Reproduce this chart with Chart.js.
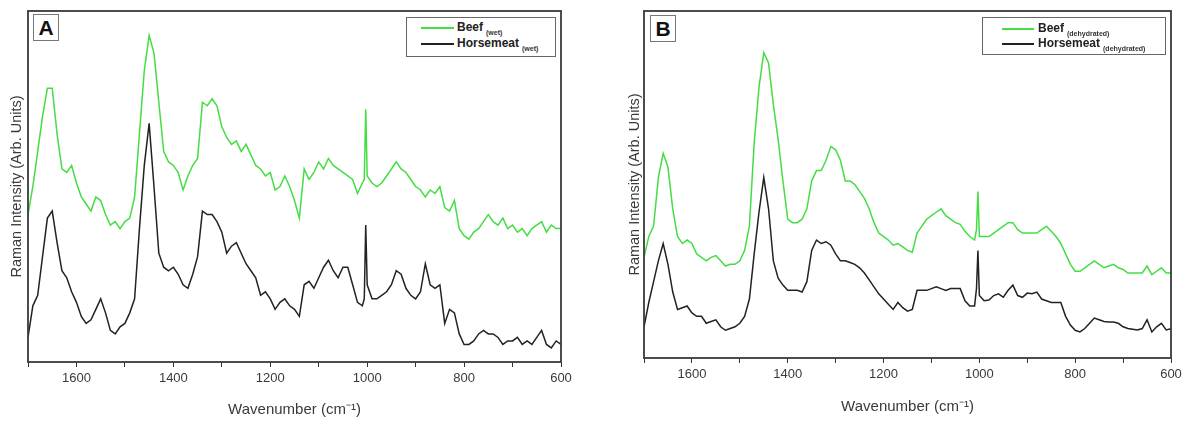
<!DOCTYPE html>
<html>
<head>
<meta charset="utf-8">
<script src="https://cdn.jsdelivr.net/npm/chart.js@4/dist/chart.umd.min.js"></script>
<style>
  body { margin: 0; width: 1188px; height: 421px; background: #fff; position: relative; overflow: hidden;
         font-family: "Liberation Sans", Arial, sans-serif; color: #222; }
  .panel { position: absolute; top: 0; width: 594px; height: 421px; }
  .tag { position: absolute; border: 1px solid #777; background: #fff; font-weight: bold; font-size: 21px;
         line-height: 25px; text-align: center; width: 24px; height: 25px; color: #111; }
  .legend { position: absolute; border: 1px solid #666; background: #fff; }
  .legend .ln { position: absolute; height: 1.5px; }
  .legend .tx { position: absolute; font-weight: bold; font-size: 12px; line-height: 14px; white-space: nowrap; color: #222; }
  .legend sub { font-size: 7px; font-weight: bold; vertical-align: -4px; margin-left: 3px; color: #333; }
</style>
</head>
<body>
<canvas id="chartA" class="panel" style="left:0" width="594" height="421"></canvas>
<canvas id="chartB" class="panel" style="left:594px" width="594" height="421"></canvas>

<div class="tag" style="left:33px;top:14px">A</div>
<div class="tag" style="left:650px;top:15px">B</div>

<div class="legend" style="left:406px;top:17px;width:148px;height:38px">
  <div class="ln" style="left:14px;top:9px;width:33px;background:#44dd44"></div>
  <div class="tx" style="left:50px;top:2px">Beef<sub>(wet)</sub></div>
  <div class="ln" style="left:14px;top:25px;width:33px;background:#222"></div>
  <div class="tx" style="left:50px;top:18px">Horsemeat<sub>(wet)</sub></div>
</div>
<div class="legend" style="left:982px;top:17px;width:182px;height:36px">
  <div class="ln" style="left:19px;top:10px;width:32px;background:#44dd44"></div>
  <div class="tx" style="left:55px;top:3px">Beef<sub>(dehydrated)</sub></div>
  <div class="ln" style="left:19px;top:25px;width:32px;background:#222"></div>
  <div class="tx" style="left:55px;top:18px">Horsemeat<sub>(dehydrated)</sub></div>
</div>

<script>
// wavenumber (cm-1), shared by both panels
const wavenumbers = [
  1700, 1690, 1680, 1670, 1660, 1650, 1640, 1630, 1620, 1610,
  1600, 1590, 1580, 1570, 1560, 1550, 1540, 1530, 1520, 1510,
  1500, 1490, 1480, 1470, 1460, 1450, 1440, 1430, 1420, 1410,
  1400, 1390, 1380, 1370, 1360, 1350, 1340, 1330, 1320, 1310,
  1300, 1290, 1280, 1270, 1260, 1250, 1240, 1230, 1220, 1210,
  1200, 1190, 1180, 1170, 1160, 1150, 1140, 1130, 1120, 1110,
  1100, 1090, 1080, 1070, 1060, 1050, 1040, 1030, 1020, 1010,
  1006, 1003,
  1000, 990, 980, 970, 960, 950, 940, 930, 920, 910,
  900, 890, 880, 870, 860, 850, 840, 830, 820, 810,
  800, 790, 780, 770, 760, 750, 740, 730, 720, 710,
  700, 690, 680, 670, 660, 650, 640, 630, 620, 610,
  600
];

// panel A (wet)
const beefWet = [
  42, 50, 60, 70, 78, 78, 65, 55, 54, 56,
  51, 47, 45, 43, 47, 46, 42, 39, 40, 38,
  40, 41, 47, 65, 83, 93, 88, 74, 60, 57,
  56, 54, 49, 53, 56, 58, 74, 73, 75, 73,
  67, 64, 62, 63, 60, 62, 59, 56, 55, 53,
  54, 49, 50, 53, 50, 46, 41, 55, 52, 54,
  57, 55, 58, 56, 55, 54, 53, 52, 48, 51,
  52, 72,
  53, 51, 50, 51, 53, 55, 57, 55, 54, 52,
  50, 49, 47, 49, 48, 50, 44, 43, 46, 38,
  36, 35, 37, 38, 40, 42, 40, 39, 41, 38,
  39, 37, 38, 36, 38, 39, 40, 37, 39, 38,
  38
];
const horseWet = [
  7, 16, 19, 30, 41, 43, 34, 26, 24, 20,
  17, 13, 11, 12, 15, 18, 14, 9, 8, 10,
  11, 14, 18, 38, 56, 68, 50, 31, 27, 26,
  27, 25, 22, 21, 25, 30, 43, 42, 42, 40,
  37, 31, 33, 34, 31, 28, 26, 24, 19, 20,
  18, 15, 17, 18, 16, 15, 13, 22, 23, 21,
  24, 27, 29, 26, 24, 27, 27, 22, 17, 16,
  18, 39,
  22, 18, 18, 19, 20, 22, 26, 25, 21, 19,
  18, 20, 28, 22, 21, 22, 11, 15, 14, 8,
  5, 5, 6, 8, 9, 8, 8, 7, 5, 6,
  6, 7, 5, 6, 5, 7, 9, 5, 4, 6,
  5
];

// panel B (dehydrated)
const beefDry = [
  29, 35, 38, 52, 59, 55, 43, 35, 33, 34,
  33, 30, 29, 28, 29, 29.5, 28, 26.5, 27, 27,
  28, 31, 38, 62, 78, 88, 85, 73, 63, 51,
  40, 39, 39, 40, 43, 51, 54, 54, 57, 61,
  60, 57, 51, 51, 50, 48, 46, 43, 39, 36,
  35, 34, 32.5, 33, 32, 31, 30.5, 36, 38, 40,
  41, 42, 43, 41, 40, 39, 38.5, 36.5, 35, 34,
  37, 48,
  35, 35, 35, 36, 37, 38, 39, 39, 37, 36,
  36, 36, 36, 37, 38, 36.5, 35, 33, 30, 27,
  25, 25, 26, 27, 28, 27, 26, 26.5, 27, 26,
  25.5, 24.5, 24.5, 24.5, 24.5, 26.5, 24, 25, 26, 24.5,
  24.5
];
const horseDry = [
  9, 16, 22, 28, 33, 27, 19, 14, 14.5, 15,
  13, 12, 12, 10, 10.5, 11, 9, 8, 8.5, 9,
  10, 12, 17, 30, 42, 52, 43, 28, 23, 21,
  19.5, 19.5, 19.5, 19, 22, 31, 34, 33, 33.5, 32.5,
  30, 28, 28, 27.5, 27, 26, 24.5, 22.5, 20.5, 18.5,
  17, 15.5, 14, 16, 14.5, 13.5, 14, 19.5, 19.5, 19.5,
  20, 20.5, 20, 19.5, 20, 20, 20, 16.5, 15, 15,
  20, 31,
  18, 16.5, 16.7, 18, 18.5, 17.5, 19.5, 21, 18, 17.5,
  18.7, 18.5, 19, 17, 16.5, 16, 16, 16, 12, 9.5,
  8, 7.5, 8.5, 10, 11.5, 11, 10.5, 10.4, 10.4, 10,
  9, 8.5, 8.3, 8.1, 8.5, 11, 7.5, 9, 10, 8.1,
  8.4
];

const xTicks = [1600, 1400, 1200, 1000, 800, 600];

Chart.defaults.font.family = '"Liberation Sans", Arial, sans-serif';
Chart.defaults.color = '#3a3a3a';

// box round the plot area
const framePlugin = {
  id: 'frame',
  afterDatasetsDraw(chart) {
    const { ctx, chartArea: a } = chart;
    ctx.save();
    ctx.strokeStyle = '#3a3a3a';
    ctx.lineWidth = 1.8;
    ctx.strokeRect(a.left, a.top, a.right - a.left, a.bottom - a.top);
    ctx.restore();
  }
};

function toPoints(values) {
  return wavenumbers.map((w, i) => ({ x: w, y: values[i] }));
}

function drawPanel(id, beef, horse, box) {
  return new Chart(document.getElementById(id), {
    type: 'line',
    data: {
      datasets: [
        { label: 'Beef', data: toPoints(beef), borderColor: '#44dd44', borderWidth: 1.5, pointRadius: 0 },
        { label: 'Horsemeat', data: toPoints(horse), borderColor: '#222', borderWidth: 1.5, pointRadius: 0 }
      ]
    },
    options: {
      responsive: false,
      animation: false,
      layout: { padding: { top: 11, right: box.right, left: 0, bottom: 0 } },
      plugins: { legend: { display: false }, tooltip: { enabled: false } },
      scales: {
        x: {
          type: 'linear',
          reverse: true,
          min: 600,
          max: 1700,
          afterFit: s => { s.height = box.xh; },
          border: { display: false },
          grid: { drawOnChartArea: false, tickLength: 5, color: '#333' },
          ticks: {
            stepSize: 100, autoSkip: false, maxRotation: 0, padding: 4,
            font: { size: 13 },
            callback: v => xTicks.includes(v) ? String(v) : ''
          },
          title: { display: true, text: 'Wavenumber (cm⁻¹)', font: { size: 15 }, padding: { top: 0, bottom: box.tb } }
        },
        y: {
          min: 0,
          max: 100,
          afterFit: s => { s.width = box.yw; },
          border: { display: false },
          grid: { display: false },
          ticks: { display: false },
          title: { display: true, text: 'Raman Intensity (Arb. Units)', font: { size: 14.5 }, padding: { top: box.tp, bottom: 0 } }
        }
      }
    },
    plugins: [framePlugin]
  });
}

drawPanel('chartA', beefWet, horseWet, { right: 33, xh: 59, yw: 28, tb: 2, tp: 8 });
drawPanel('chartB', beefDry, horseDry, { right: 17, xh: 63, yw: 50, tb: 5, tp: 32 });
</script>
</body>
</html>
